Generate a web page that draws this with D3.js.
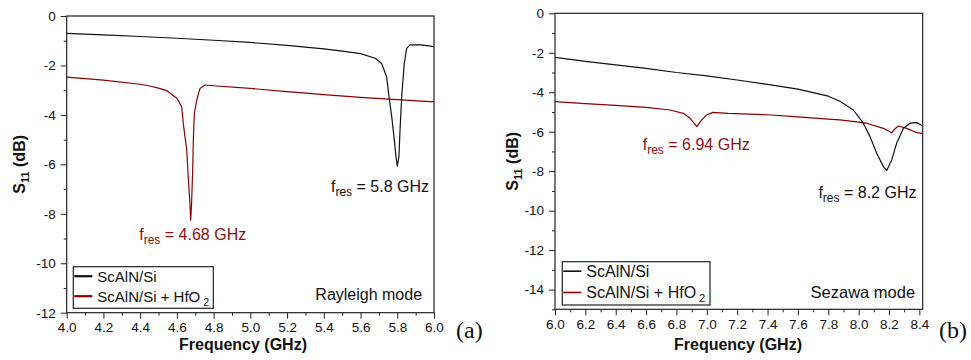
<!DOCTYPE html>
<html>
<head>
<meta charset="utf-8">
<script src="https://cdn.jsdelivr.net/npm/d3@7"></script>
<style>
body { margin: 0; background: #fff; }
svg text { font-family: "Liberation Sans", Arial, sans-serif; fill: #111; }
</style>
</head>
<body>
<svg id="chart" width="971" height="360"></svg>
<script>
// ---- data ----
// (a) Rayleigh mode
var rayFreqBare = [4.0, 4.2, 4.4, 4.6, 4.8, 5.0, 5.2, 5.4, 5.5, 5.6, 5.68, 5.715, 5.742, 5.755, 5.77, 5.784, 5.793, 5.80, 5.809, 5.815, 5.824, 5.838, 5.851, 5.869, 5.93, 6.0];
var rayS11Bare  = [-0.70, -0.76, -0.83, -0.90, -0.98, -1.07, -1.19, -1.33, -1.42, -1.52, -1.71, -1.92, -2.46, -3.27, -4.08, -5.02, -5.70, -6.07, -5.70, -4.62, -3.27, -1.92, -1.31, -1.17, -1.17, -1.24];
var rayFreqHfO2 = [4.0, 4.2, 4.4, 4.453, 4.5, 4.545, 4.6, 4.626, 4.635, 4.644, 4.653, 4.662, 4.671, 4.675, 4.68, 4.686, 4.69, 4.695, 4.708, 4.726, 4.753, 4.8, 5.0, 5.2, 5.4, 5.6, 5.8, 6.0];
var rayS11HfO2  = [-2.47, -2.59, -2.76, -2.83, -2.92, -3.02, -3.33, -3.67, -4.35, -4.89, -5.36, -6.51, -7.58, -8.26, -7.58, -6.23, -4.89, -3.94, -3.40, -2.93, -2.79, -2.82, -2.93, -3.06, -3.18, -3.29, -3.38, -3.47];

// (b) Sezawa mode
var sezFreqBare = [6.0, 6.2, 6.4, 6.6, 6.8, 7.0, 7.2, 7.4, 7.6, 7.8, 7.877, 7.965, 8.031, 8.075, 8.119, 8.163, 8.185, 8.218, 8.25, 8.295, 8.339, 8.383, 8.42];
var sezS11Bare  = [-2.23, -2.44, -2.61, -2.79, -3.00, -3.17, -3.38, -3.60, -3.84, -4.20, -4.46, -4.90, -5.57, -6.25, -7.09, -7.77, -7.97, -7.43, -6.59, -5.83, -5.57, -5.54, -5.70];
var sezFreqHfO2 = [6.0, 6.2, 6.4, 6.6, 6.758, 6.845, 6.89, 6.915, 6.934, 6.966, 7.0, 7.04, 7.14, 7.4, 7.6, 7.8, 7.877, 8.053, 8.163, 8.218, 8.24, 8.262, 8.317, 8.383, 8.42];
var sezS11HfO2  = [-4.48, -4.58, -4.67, -4.77, -4.90, -5.07, -5.32, -5.55, -5.74, -5.40, -5.15, -5.02, -5.07, -5.14, -5.25, -5.36, -5.40, -5.57, -5.83, -6.05, -5.85, -5.71, -5.83, -6.05, -6.08];

var seriesNames = ["ScAlN/Si", "ScAlN/Si + HfO"];
var seriesColors = ["#111111", "#8b0000"];

var rayXTicks = [4.0, 4.2, 4.4, 4.6, 4.8, 5.0, 5.2, 5.4, 5.6, 5.8, 6.0];
var rayYTicks = [0, -2, -4, -6, -8, -10, -12];
var sezXTicks = [6.0, 6.2, 6.4, 6.6, 6.8, 7.0, 7.2, 7.4, 7.6, 7.8, 8.0, 8.2, 8.4];
var sezYTicks = [0, -2, -4, -6, -8, -10, -12, -14];

var svg = d3.select("#chart");

function zip(f, s) { return f.map(function (d, i) { return [d, s[i]]; }); }

function drawPanel(o) {
    var x = d3.scaleLinear().domain(o.xDomain).range([o.left, o.right]);
    var y = d3.scaleLinear().domain(o.yDomain).range([o.bottom, o.top]);
    var g = svg.append("g");

    // minor ticks halfway between majors
    var xMinor = [], yMinor = [];
    for (var i = 0; i < o.xTicks.length; i++) {
        var m = o.xTicks[i] + (o.xTicks[1] - o.xTicks[0]) / 2;
        if (m < o.xDomain[1]) xMinor.push(m);
    }
    for (var j = 0; j < o.yTicks.length; j++) {
        var n = o.yTicks[j] - 1;
        if (n >= o.yDomain[0]) yMinor.push(n);
    }

    var xAxis = g.append("g").attr("transform", "translate(0," + o.bottom + ")")
        .call(d3.axisBottom(x).tickValues(o.xTicks).tickSize(6).tickPadding(4)
            .tickFormat(d3.format(".1f")));
    g.append("g").attr("transform", "translate(0," + o.bottom + ")")
        .call(d3.axisBottom(x).tickValues(xMinor).tickSize(3).tickFormat(""));
    var yAxis = g.append("g").attr("transform", "translate(" + o.left + ",0)")
        .call(d3.axisLeft(y).tickValues(o.yTicks).tickSize(6).tickPadding(5)
            .tickFormat(function (d) { return String(d); }));
    g.append("g").attr("transform", "translate(" + o.left + ",0)")
        .call(d3.axisLeft(y).tickValues(yMinor).tickSize(3).tickFormat(""));
    g.selectAll(".domain").remove();
    g.selectAll(".tick line").attr("stroke", "#222");
    g.selectAll(".tick text").attr("font-size", 13.5).attr("fill", "#111")
        .style("font-family", "'Liberation Sans', Arial, sans-serif");

    // clip + curves
    var cid = "clip" + o.id;
    svg.append("clipPath").attr("id", cid).append("rect")
        .attr("x", o.left).attr("y", o.top)
        .attr("width", o.right - o.left).attr("height", o.bottom - o.top);
    var line = d3.line().x(function (d) { return x(d[0]); }).y(function (d) { return y(d[1]); });
    var curves = g.append("g").attr("clip-path", "url(#" + cid + ")");
    // draw HfO2 first so the bare curve sits on top where they cross
    [1, 0].forEach(function (k) {
        curves.append("path").datum(o.series[k])
            .attr("fill", "none").attr("stroke", seriesColors[k])
            .attr("stroke-width", 1.2).attr("stroke-linejoin", "round")
            .attr("d", line);
    });

    // frame
    g.append("rect").attr("x", o.left).attr("y", o.top)
        .attr("width", o.right - o.left).attr("height", o.bottom - o.top)
        .attr("fill", "none").attr("stroke", "#222").attr("stroke-width", 1.2);

    // axis titles
    g.append("text").attr("x", o.xTitleX).attr("y", 350)
        .attr("text-anchor", "middle").attr("font-size", 16).attr("font-weight", "bold")
        .text("Frequency (GHz)");
    var yt = g.append("text")
        .attr("transform", "translate(" + o.yTitleX + "," + ((o.top + o.bottom) / 2) + ") rotate(-90)")
        .attr("text-anchor", "middle").attr("font-size", 16).attr("font-weight", "bold");
    yt.append("tspan").text("S");
    yt.append("tspan").attr("font-size", 11).attr("dy", 4).text("11");
    yt.append("tspan").attr("dy", -4).text(" (dB)");

    // resonance annotations
    o.notes.forEach(function (a) {
        var t = g.append("text").attr("x", x(a.f)).attr("y", y(a.s))
            .attr("font-size", 16).style("fill", a.color);
        t.append("tspan").text("f");
        t.append("tspan").attr("font-size", 12).attr("dy", 4).text("res");
        t.append("tspan").attr("dy", -4).text(" = " + a.label);
    });

    // mode label
    g.append("text").attr("x", x(o.mode.f)).attr("y", y(o.mode.s))
        .attr("text-anchor", "end").attr("font-size", o.mode.size).text(o.mode.text);

    // legend
    var lg = g.append("g").attr("transform", "translate(" + (o.left + o.leg.dx) + "," + (o.bottom - o.leg.h - o.leg.dy) + ")");
    lg.append("rect").attr("width", o.leg.w).attr("height", o.leg.h)
        .attr("fill", "#fff").attr("stroke", "#222").attr("stroke-width", 1.2);
    seriesNames.forEach(function (name, k) {
        var cy = o.leg.row0 + k * o.leg.gap;
        lg.append("line").attr("x1", 1).attr("x2", o.leg.lineLen)
            .attr("y1", cy).attr("y2", cy)
            .attr("stroke", seriesColors[k]).attr("stroke-width", o.leg.lw);
        var t = lg.append("text").attr("x", o.leg.lineLen + 5).attr("y", cy + o.leg.size * 0.36)
            .attr("font-size", o.leg.size);
        t.append("tspan").text(name);
        if (k === 1) t.append("tspan").attr("dx", 3).attr("dy", 4).attr("font-size", o.leg.size * 0.7).text("2");
    });

    // panel tag
    svg.append("text").attr("x", o.tagX).attr("y", 338)
        .attr("font-size", 24).style("font-family", "'Liberation Serif', 'Times New Roman', serif")
        .text(o.tag);
}

drawPanel({
    id: "a", left: 66.7, right: 434, top: 16, bottom: 312.7,
    xDomain: [4.0, 6.0], yDomain: [-12, 0],
    xTicks: rayXTicks, yTicks: rayYTicks,
    series: [zip(rayFreqBare, rayS11Bare), zip(rayFreqHfO2, rayS11HfO2)],
    notes: [
        { f: 5.439, s: -7.13, label: "5.8 GHz", color: "#111" },
        { f: 4.395, s: -9.07, label: "4.68 GHz", color: "#8b1010" }
    ],
    mode: { f: 5.935, s: -11.5, text: "Rayleigh mode", size: 16 },
    leg: { dx: 6.6, dy: 4.4, w: 140, h: 41.6, row0: 9.5, gap: 20, lineLen: 19, lw: 2.2, size: 15 },
    xTitleX: 243, yTitleX: 25,
    tag: "(a)", tagX: 456
});

drawPanel({
    id: "b", left: 555, right: 922.7, top: 13.3, bottom: 309.3,
    xDomain: [6.0, 8.422], yDomain: [-15, 0],
    xTicks: sezXTicks, yTicks: sezYTicks,
    series: [zip(sezFreqBare, sezS11Bare), zip(sezFreqHfO2, sezS11HfO2)],
    notes: [
        { f: 7.735, s: -9.38, label: "8.2 GHz", color: "#111" },
        { f: 6.578, s: -6.92, label: "6.94 GHz", color: "#8b1010" }
    ],
    mode: { f: 8.372, s: -14.44, text: "Sezawa mode", size: 16.5 },
    leg: { dx: 7.3, dy: 4.3, w: 147.7, h: 43.3, row0: 9.5, gap: 21.3, lineLen: 19, lw: 1.6, size: 16 },
    xTitleX: 738, yTitleX: 518,
    tag: "(b)", tagX: 939
});
</script>
</body>
</html>
